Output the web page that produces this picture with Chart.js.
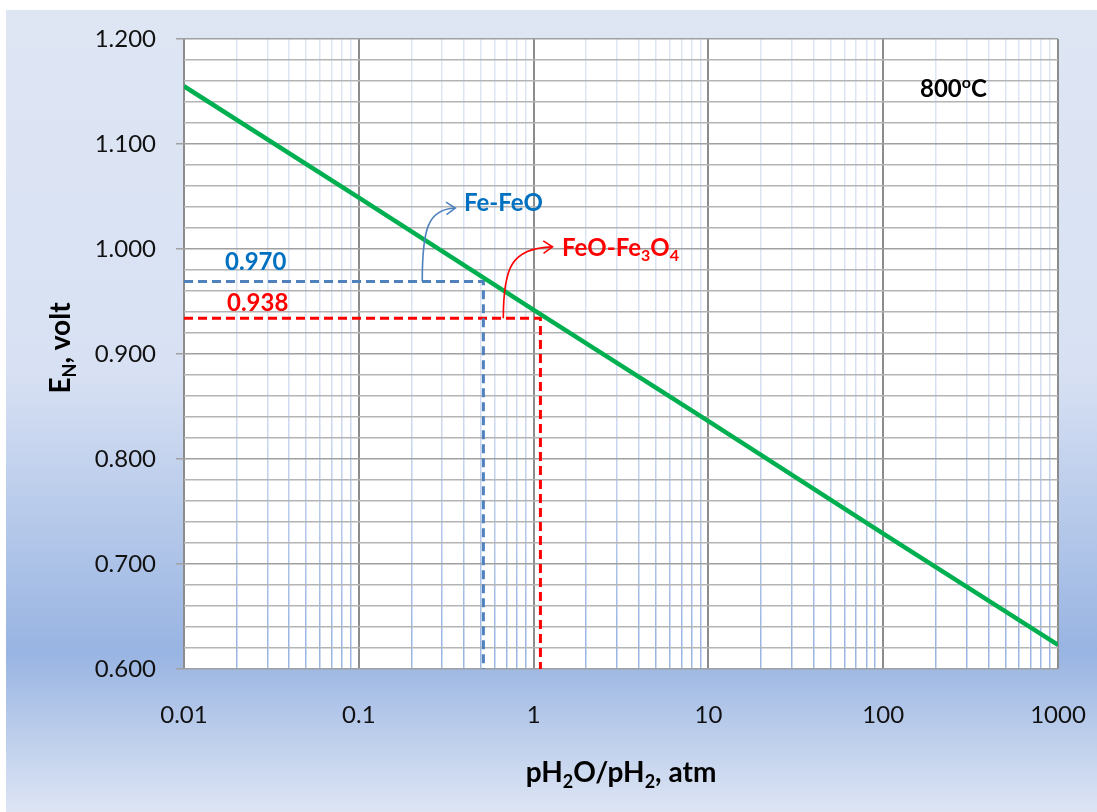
<!DOCTYPE html>
<html>
<head>
<meta charset="utf-8">
<script src="https://cdn.jsdelivr.net/npm/chart.js@4.4.1/dist/chart.umd.min.js"></script>
<style>
  html, body { margin: 0; padding: 0; background: #fff; }
  #wrap { width: 1097px; height: 812px; }
</style>
</head>
<body>
<div id="wrap"><canvas id="chart" width="1097" height="812"></canvas></div>
<script>
// x axis: pH2O/pH2 (log), y axis: E_N in volt
const decades = [0.01, 0.1, 1, 10, 100, 1000];
const decadeLabels = ["0.01", "0.1", "1", "10", "100", "1000"];
const minorSteps = [2, 3, 4, 5, 6, 7, 8, 9];

const yMin = 0.6;
const yMax = 1.2;
const yStep = 0.02;

// Nernst line at 800 C, read at each decade
const nernstX = [0.01, 0.1, 1, 10, 100, 1000];
const nernstE = [1.155, 1.049, 0.942, 0.836, 0.729, 0.623];

// dashed read-off lines
const feFeoX = [0.01, 0.516, 0.516];
const feFeoY = [0.969, 0.969, 0.6];
const feoFe3o4X = [0.01, 1.094, 1.094];
const feoFe3o4Y = [0.934, 0.934, 0.6];

// annotations (data coords; text: _ = subscript, ^ = superscript)
const noteText = ["0.970", "0.938", "Fe-FeO", "FeO-Fe_3O_4", "800^oC"];
const noteX = [0.01717, 0.01762, 0.400, 1.454, 162.4];
const noteY = [0.980, 0.941, 1.0362, 0.9933, 1.1448];
const noteColor = ["#0070c0", "#ff0000", "#0070c0", "#ff0000", "#000000"];

const arrowFrom = [[0.2307, 0.969], [0.671, 0.934]];
const arrowTo = [[0.3565, 1.039], [1.282, 1.002]];
const arrowColor = ["#4f81bd", "#ff0000"];

const xTitle = "pH_2O/pH_2, atm";
const yTitle = "E_N, volt";

const FONT = "Lato, 'Open Sans', sans-serif";

function isDecade(v) {
  return decades.some(d => Math.abs(v - d) / d < 1e-6);
}

function isMajorY(v) {
  return Math.abs(v * 10 - Math.round(v * 10)) < 1e-6;
}

const xTicks = [];
decades.forEach((d, i) => {
  xTicks.push(d);
  if (i < decades.length - 1) minorSteps.forEach(m => xTicks.push(d * m));
});

function toPoints(xs, ys) {
  return xs.map((x, i) => ({ x, y: ys[i] }));
}

let bgGradient = null;
function getGradient(chart) {
  if (!bgGradient) {
    const g = chart.ctx.createLinearGradient(0, 10, 0, 812);
    g.addColorStop(0, "#dee6f4");
    g.addColorStop(0.45, "#d8e1f3");
    g.addColorStop(0.8, "#98b4e2");
    g.addColorStop(1, "#dde5f4");
    bgGradient = g;
  }
  return bgGradient;
}

// draws text with _x subscripts and ^x superscripts
function parseRich(str) {
  const parts = [];
  for (let i = 0; i < str.length; i++) {
    const c = str[i];
    if ((c === "_" || c === "^") && i + 1 < str.length) {
      parts.push({ t: str[i + 1], mode: c === "_" ? "sub" : "sup" });
      i++;
    } else {
      const last = parts[parts.length - 1];
      if (last && last.mode === "n") last.t += c;
      else parts.push({ t: c, mode: "n" });
    }
  }
  return parts;
}

function drawRich(ctx, str, x, y, size, weight, color, align) {
  const parts = parseRich(str);
  const small = Math.round(size * 0.65);
  const fontFor = p => weight + " " + (p.mode === "n" ? size : small) + "px " + FONT;
  let total = 0;
  parts.forEach(p => {
    ctx.font = fontFor(p);
    p.w = ctx.measureText(p.t).width;
    total += p.w;
  });
  let cx = align === "center" ? x - total / 2 : x;
  ctx.fillStyle = color;
  ctx.textBaseline = "alphabetic";
  ctx.textAlign = "left";
  parts.forEach(p => {
    ctx.font = fontFor(p);
    let dy = 0;
    if (p.mode === "sub") dy = size * 0.22;
    if (p.mode === "sup") dy = -size * 0.36;
    ctx.fillText(p.t, cx, y + dy);
    cx += p.w;
  });
}

const backgroundPlugin = {
  id: "background",
  beforeDraw(chart) {
    const { ctx, chartArea } = chart;
    ctx.save();
    ctx.fillStyle = "#ffffff";
    ctx.fillRect(0, 0, chart.width, chart.height);
    ctx.fillStyle = getGradient(chart);
    ctx.fillRect(6, 10, chart.width - 6, chart.height - 10);
    ctx.fillStyle = "#ffffff";
    ctx.fillRect(chartArea.left, chartArea.top, chartArea.right - chartArea.left, chartArea.bottom - chartArea.top);
    ctx.restore();
  }
};

const notesPlugin = {
  id: "notes",
  afterDatasetsDraw(chart) {
    const { ctx, chartArea, scales } = chart;
    const xs = scales.x;
    const ys = scales.y;
    ctx.save();

    // curved arrows
    arrowFrom.forEach((from, i) => {
      const sx = xs.getPixelForValue(from[0]);
      const sy = ys.getPixelForValue(from[1]);
      const ex = xs.getPixelForValue(arrowTo[i][0]);
      const ey = ys.getPixelForValue(arrowTo[i][1]);
      const c1x = sx, c1y = sy - (sy - ey) * 0.7;
      const c2x = sx + (ex - sx) * 0.15, c2y = ey + 1;
      ctx.strokeStyle = arrowColor[i];
      ctx.lineWidth = 1.6;
      ctx.beginPath();
      ctx.moveTo(sx, sy);
      ctx.bezierCurveTo(c1x, c1y, c2x, c2y, ex, ey);
      ctx.stroke();
      const ang = Math.atan2(ey - c2y, ex - c2x);
      const len = 11;
      ctx.beginPath();
      ctx.moveTo(ex - len * Math.cos(ang - 0.6), ey - len * Math.sin(ang - 0.6));
      ctx.lineTo(ex, ey);
      ctx.lineTo(ex - len * Math.cos(ang + 0.6), ey - len * Math.sin(ang + 0.6));
      ctx.stroke();
    });

    // text notes
    noteText.forEach((t, i) => {
      drawRich(ctx, t, xs.getPixelForValue(noteX[i]), ys.getPixelForValue(noteY[i]), 24, "bold", noteColor[i], "left");
    });

    // axis titles
    const midX = (chartArea.left + chartArea.right) / 2;
    drawRich(ctx, xTitle, midX, 782, 28, "bold", "#000000", "center");
    ctx.translate(70, (chartArea.top + chartArea.bottom) / 2 - 6);
    ctx.rotate(-Math.PI / 2);
    drawRich(ctx, yTitle, 0, 0, 28, "bold", "#000000", "center");
    ctx.restore();
  }
};

new Chart(document.getElementById("chart"), {
  type: "line",
  data: {
    datasets: [
      {
        label: "E_N",
        data: toPoints(nernstX, nernstE),
        borderColor: "#00b050",
        borderWidth: 4.5,
        pointRadius: 0,
        tension: 0
      },
      {
        label: "Fe-FeO",
        data: toPoints(feFeoX, feFeoY),
        borderColor: "#4f81bd",
        borderWidth: 3,
        borderDash: [9, 5],
        pointRadius: 0,
        tension: 0
      },
      {
        label: "FeO-Fe3O4",
        data: toPoints(feoFe3o4X, feoFe3o4Y),
        borderColor: "#ff0000",
        borderWidth: 3,
        borderDash: [9, 5],
        pointRadius: 0,
        tension: 0
      }
    ]
  },
  options: {
    responsive: false,
    animation: false,
    layout: { padding: { left: 0, top: 39, right: 39, bottom: 0 } },
    plugins: {
      legend: { display: false },
      tooltip: { enabled: false }
    },
    scales: {
      x: {
        type: "logarithmic",
        min: 0.01,
        max: 1000,
        afterBuildTicks: scale => {
          scale.ticks = xTicks.map(v => ({ value: v, major: isDecade(v) }));
        },
        afterFit: scale => {
          scale.height = 143;
          scale.paddingLeft = 0;
          scale.paddingRight = 0;
        },
        border: { display: false },
        grid: {
          drawTicks: false,
          color: c => isDecade(c.tick.value) ? "#8c8c8c" : getGradient(c.chart),
          lineWidth: c => isDecade(c.tick.value) ? 2 : 1.5
        },
        ticks: {
          autoSkip: false,
          maxRotation: 0,
          padding: 32,
          color: "#111111",
          font: { family: FONT, size: 24 },
          callback: value => {
            const i = decades.findIndex(d => Math.abs(value - d) / d < 1e-6);
            return i >= 0 ? decadeLabels[i] : "";
          }
        }
      },
      y: {
        type: "linear",
        min: yMin,
        max: yMax,
        afterFit: scale => {
          scale.width = 184;
          scale.paddingTop = 0;
          scale.paddingBottom = 0;
        },
        border: { display: false },
        grid: {
          tickLength: 8,
          color: c => isMajorY(c.tick.value) ? "#a0a0a0" : "#b4b4b4",
          lineWidth: 1.5,
          tickColor: c => isMajorY(c.tick.value) ? "#a0a0a0" : "rgba(0,0,0,0)",
          tickWidth: 1.5
        },
        ticks: {
          stepSize: yStep,
          autoSkip: false,
          padding: 20,
          color: "#111111",
          font: { family: FONT, size: 24 },
          callback: value => isMajorY(value) ? value.toFixed(3) : ""
        }
      }
    }
  },
  plugins: [backgroundPlugin, notesPlugin]
});
</script>
</body>
</html>
